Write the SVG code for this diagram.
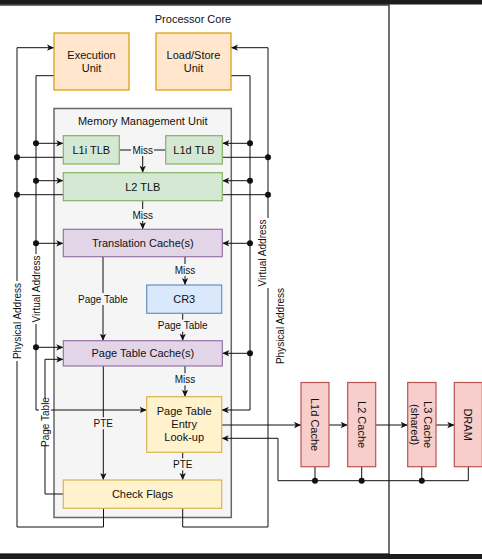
<svg xmlns="http://www.w3.org/2000/svg" width="482" height="559" viewBox="0 0 482 559">
<style>
text{font-family:"Liberation Sans",Arial,sans-serif;fill:#111;text-anchor:middle}
.n{font-size:11px}
.l{font-size:10px}
.w{stroke:#111;stroke-width:1;fill:none}
.a{stroke:#111;stroke-width:1;fill:none;marker-end:url(#ar)}
.dot{fill:#111}
.or{fill:#ffe6cc;stroke:#d79b00;stroke-width:1.2}
.gr{fill:#d5e8d4;stroke:#82b366;stroke-width:1.2}
.pu{fill:#e1d5e7;stroke:#9673a6;stroke-width:1.2}
.bl{fill:#dae8fc;stroke:#6c8ebf;stroke-width:1.2}
.ye{fill:#fff2cc;stroke:#d6b656;stroke-width:1.2}
.re{fill:#f8cecc;stroke:#b85450;stroke-width:1.2}
.bgw{fill:#fff}
.bgg{fill:#f5f5f5}
</style>
<defs>
<marker id="ar" viewBox="0 0 10 10" refX="10" refY="5" markerWidth="7" markerHeight="7" markerUnits="userSpaceOnUse" orient="auto">
<path d="M0,0.5 L10,5 L0,9.5 L2.5,5 z" fill="#111"/>
</marker>
</defs>
<rect x="0" y="0" width="482" height="559" fill="#fff"/>
<rect x="0" y="0" width="482" height="4.5" fill="#1c1c1c"/>
<rect x="0" y="554" width="482" height="5" fill="#1c1c1c"/>
<g id="processor-core">
<rect x="-5" y="5" width="394" height="549" fill="#fff" stroke="#111" stroke-width="1.2"/>
<text class="n" x="193" y="22.5">Processor Core</text>
</g>
<g id="mmu">
<rect x="54" y="108.5" width="177.3" height="409" fill="#f5f5f5" stroke="#666" stroke-width="1.5"/>
<text class="n" x="142.7" y="124.5">Memory Management Unit</text>
</g>
<g id="connectors">
<!-- physical address to execution unit -->
<path class="a" d="M103.5,508.3 V527 H17 V47.7 H54"/>
<!-- physical address to load/store -->
<path class="a" d="M182.7,508.3 V527 H268 V47.7 H231"/>
<!-- virtual address buses -->
<path class="a" d="M54,75.7 H36 V410 H146.7"/>
<path class="a" d="M231,75.7 H250 V410 H221.7"/>
<!-- left branches -->
<path class="a" d="M36,143.3 H63.3"/>
<path class="a" d="M36,180.7 H63.3"/>
<path class="a" d="M36,243.3 H63.3"/>
<path class="a" d="M36,347.3 H63.3"/>
<!-- right branches -->
<path class="a" d="M250,143.3 H222.3"/>
<path class="a" d="M250,180.7 H222.3"/>
<path class="a" d="M250,243.3 H222.3"/>
<path class="a" d="M250,353.3 H222.3"/>
<!-- TLB outputs -->
<path class="w" d="M63.3,157.3 H17"/>
<path class="w" d="M63.3,194.7 H17"/>
<path class="w" d="M222.3,157.3 H268"/>
<path class="w" d="M222.3,194.7 H268"/>
<!-- misses / page table -->
<path class="w" d="M119.3,150 H165.7"/>
<path class="a" d="M142.7,150 V172.7"/>
<path class="a" d="M142.7,200.7 V229.3"/>
<path class="a" d="M103,256.7 V340.7"/>
<path class="a" d="M185,256.7 V285"/>
<path class="a" d="M182.7,313.3 V340.7"/>
<path class="a" d="M185,366 V396.7"/>
<path class="a" d="M103.3,366 V480"/>
<path class="a" d="M182.7,452.3 V480"/>
<path class="a" d="M63.3,494 H45 V359.3 H63.3"/>
<!-- caches -->
<path class="a" d="M221.7,425 H301"/>
<path class="a" d="M329,425 H347.7"/>
<path class="a" d="M375.7,425 H407.7"/>
<path class="a" d="M436,425 H454.3"/>
<path class="a" d="M468.3,466.7 V480.7 H278 V438.3 H221.7"/>
<path class="w" d="M315,466.7 V480.7 M361.7,466.7 V480.7 M421.8,466.7 V480.7"/>
<!-- dots -->
<circle class="dot" cx="36" cy="143.3" r="3"/>
<circle class="dot" cx="36" cy="180.7" r="3"/>
<circle class="dot" cx="36" cy="243.3" r="3"/>
<circle class="dot" cx="36" cy="347.3" r="3"/>
<circle class="dot" cx="17" cy="157.3" r="3"/>
<circle class="dot" cx="17" cy="194.7" r="3"/>
<circle class="dot" cx="250" cy="143.3" r="3"/>
<circle class="dot" cx="250" cy="180.7" r="3"/>
<circle class="dot" cx="250" cy="243.3" r="3"/>
<circle class="dot" cx="250" cy="353.3" r="3"/>
<circle class="dot" cx="268" cy="157.3" r="3"/>
<circle class="dot" cx="268" cy="194.7" r="3"/>
<circle class="dot" cx="315" cy="480.7" r="3"/>
<circle class="dot" cx="361.7" cy="480.7" r="3"/>
<circle class="dot" cx="421.8" cy="480.7" r="3"/>
<!-- labels -->
<rect class="bgg" x="131" y="144" width="23" height="12"/>
<text class="l" x="142.7" y="153.5">Miss</text>
<rect class="bgg" x="131" y="209" width="23" height="12"/>
<text class="l" x="142.7" y="218.5">Miss</text>
<rect class="bgg" x="77" y="293" width="52" height="12"/>
<text class="l" x="103" y="302.5">Page Table</text>
<rect class="bgg" x="173.5" y="264" width="23" height="12"/>
<text class="l" x="185" y="273.5">Miss</text>
<rect class="bgg" x="156.5" y="319.7" width="52" height="12"/>
<text class="l" x="182.7" y="329.2">Page Table</text>
<rect class="bgg" x="173.5" y="373.3" width="23" height="12"/>
<text class="l" x="185" y="382.8">Miss</text>
<rect class="bgg" x="92" y="417.3" width="22" height="12"/>
<text class="l" x="103.3" y="426.8">PTE</text>
<rect class="bgg" x="171.5" y="458.3" width="22" height="12"/>
<text class="l" x="182.7" y="467.8">PTE</text>
<g transform="translate(17,321) rotate(-90)"><rect class="bgw" x="-40" y="-6" width="80" height="12"/><text class="l" x="0" y="3.5">Physical Address</text></g>
<g transform="translate(36,289) rotate(-90)"><rect class="bgw" x="-35" y="-6" width="70" height="12"/><text class="l" x="0" y="3.5">Virtual Address</text></g>
<g transform="translate(45,422) rotate(-90)"><rect class="bgw" x="-23" y="-6" width="46" height="12"/><text class="l" x="0" y="3.5">Page Table</text></g>
<g transform="translate(262,253) rotate(-90)"><rect class="bgw" x="-35" y="-7" width="70" height="15"/><text class="l" x="0" y="3.5">Virtual Address</text></g>
<g transform="translate(280,326) rotate(-90)"><text class="l" x="0" y="3.5">Physical Address</text></g>
</g>
<g id="execution-unit"><rect class="or" x="54" y="33" width="75" height="57"/><text class="n" x="91.5" y="58.5">Execution</text><text class="n" x="91.5" y="71.7">Unit</text></g>
<g id="load-store-unit"><rect class="or" x="156" y="33" width="75" height="57"/><text class="n" x="193.5" y="58.5">Load/Store</text><text class="n" x="193.5" y="71.7">Unit</text></g>
<g id="l1i-tlb"><rect class="gr" x="63.3" y="135.7" width="56" height="28.3"/><text class="n" x="91.3" y="153.8">L1i TLB</text></g>
<g id="l1d-tlb"><rect class="gr" x="165.7" y="135.7" width="56.6" height="28.3"/><text class="n" x="194" y="153.8">L1d TLB</text></g>
<g id="l2-tlb"><rect class="gr" x="63.3" y="172.7" width="159" height="28"/><text class="n" x="142.8" y="190.6">L2 TLB</text></g>
<g id="translation-cache"><rect class="pu" x="63.3" y="229.3" width="159" height="27.4"/><text class="n" x="142.8" y="246.9">Translation Cache(s)</text></g>
<g id="cr3"><rect class="bl" x="146.7" y="285" width="75" height="28.3"/><text class="n" x="184.2" y="303">CR3</text></g>
<g id="page-table-cache"><rect class="pu" x="63.3" y="340.7" width="159" height="25.3"/><text class="n" x="142.8" y="357.3">Page Table Cache(s)</text></g>
<g id="pte-lookup"><rect class="ye" x="146.7" y="396.7" width="75" height="55.6"/><text class="n" x="184.2" y="415">Page Table</text><text class="n" x="184.2" y="428.3">Entry</text><text class="n" x="184.2" y="441.2">Look-up</text></g>
<g id="check-flags"><rect class="ye" x="63.3" y="480" width="158.4" height="28.3"/><text class="n" x="142.5" y="498">Check Flags</text></g>
<g id="l1d-cache"><rect class="re" x="301" y="382.5" width="28" height="84.2"/><text class="n" transform="translate(315,424.6) rotate(90)" x="0" y="3.9">L1d Cache</text></g>
<g id="l2-cache"><rect class="re" x="347.7" y="382.5" width="28" height="84.2"/><text class="n" transform="translate(361.7,424.6) rotate(90)" x="0" y="3.9">L2 Cache</text></g>
<g id="l3-cache"><rect class="re" x="407.7" y="382.5" width="28.3" height="84.2"/><text class="n" transform="translate(421.8,424.6) rotate(90)" x="0" y="-2.6">L3 Cache</text><text class="n" transform="translate(421.8,424.6) rotate(90)" x="0" y="10.4">(shared)</text></g>
<g id="dram"><rect class="re" x="454.3" y="382.5" width="28" height="84.2"/><text class="n" transform="translate(468.3,424.6) rotate(90)" x="0" y="3.9">DRAM</text></g>
</svg>
